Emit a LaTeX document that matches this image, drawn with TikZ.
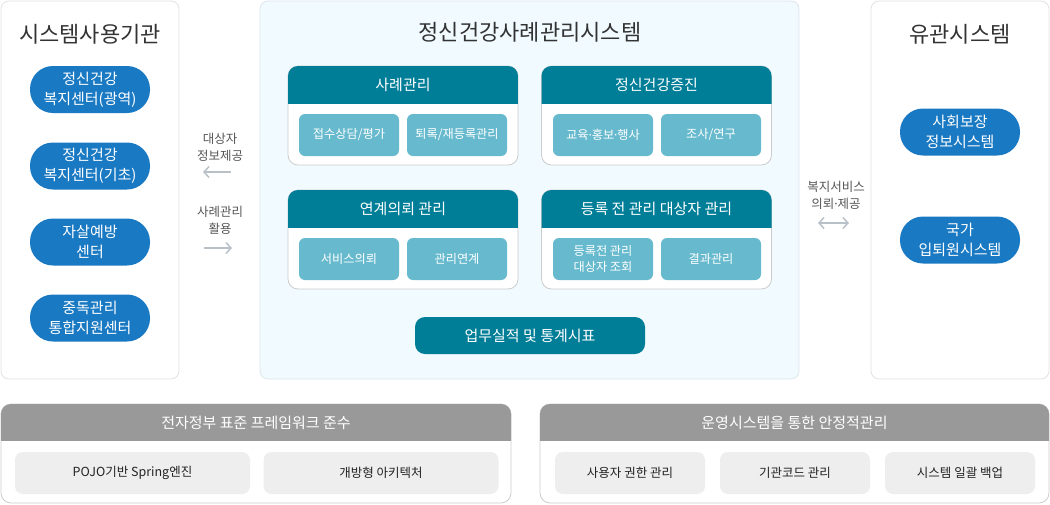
\documentclass[tikz,border=0pt]{standalone}
\usepackage{fontspec}
\setmainfont{Noto Sans CJK KR}
\newfontfamily\latinfont{Noto Sans}
\usetikzlibrary{arrows.meta}
\definecolor{ttl}{HTML}{333333}
\definecolor{pnlbd}{HTML}{E2E2E2}
\definecolor{ctrfill}{HTML}{F0FAFF}
\definecolor{ctrbd}{HTML}{DCE6EC}
\definecolor{pillblue}{HTML}{1A79C3}
\definecolor{tealhd}{HTML}{007E98}
\definecolor{tealin}{HTML}{67BACE}
\definecolor{subbd}{HTML}{CCCCCC}
\definecolor{arrgray}{HTML}{B9C1C8}
\definecolor{lblgray}{HTML}{555555}
\definecolor{grayhd}{HTML}{999999}
\definecolor{grayin}{HTML}{EEEEEE}
\definecolor{btxt}{HTML}{222222}
\newcommand\mdot{{\latinfont ·}}
\begin{document}
\begin{tikzpicture}[x=1pt,y=-1pt,
 panel/.style={draw=pnlbd,fill=white,line width=0.8pt,rounded corners=8pt,inner sep=0pt,outer sep=0pt},
 ttlnode/.style={text=ttl,inner sep=0pt,font=\fontsize{22}{26}\selectfont},
 pill/.style={fill=pillblue,rounded corners=23pt,minimum width=120pt,minimum height=47pt,inner sep=0pt,text=white,align=center,font=\fontsize{15}{20}\selectfont},
 subbox/.style={draw=subbd,fill=white,line width=0.8pt,rounded corners=10pt,minimum width=230pt,minimum height=99pt,inner sep=0pt,outer sep=0pt},
 hdtext/.style={text=white,inner sep=0pt,font=\fontsize{15}{18}\selectfont},
 inbox/.style={fill=tealin,rounded corners=6pt,minimum width=100pt,minimum height=42pt,inner sep=0pt,text=white,align=center,font=\fontsize{12.2}{16.5}\selectfont},
 btn/.style={fill=tealhd,rounded corners=10pt,minimum width=230pt,minimum height=37pt,inner sep=0pt,text=white,font=\fontsize{15}{18}\selectfont},
 lbl/.style={text=lblgray,align=center,inner sep=0pt,font=\fontsize{12.5}{17}\selectfont},
 arr/.style={draw=arrgray,line width=1.5pt},
 bpanel/.style={draw=subbd,fill=white,line width=0.8pt,rounded corners=10pt,inner sep=0pt,outer sep=0pt,minimum height=99pt},
 binbox/.style={fill=grayin,rounded corners=8pt,minimum height=42pt,inner sep=0pt,text=btxt,font=\fontsize{12.5}{16}\selectfont},
]
\useasboundingbox (0,0) rectangle (1050,504);

% ---------- main panels ----------
\node[panel,minimum width=178pt,minimum height=378pt] (lp) at (90,190) {};
\node[panel,fill=ctrfill,draw=ctrbd,minimum width=539pt,minimum height=378pt] (cp) at (529.5,190) {};
\node[panel,minimum width=178pt,minimum height=378pt] (rp) at (960,190) {};

\node[ttlnode] (lt) at (90,34.5) {시스템사용기관};
\node[ttlnode] (ct) at (530,32) {정신건강사례관리시스템};
\node[ttlnode] (rt) at (960,34.5) {유관시스템};

% ---------- left pills ----------
\node[pill] (l1) at (90,89.5) {정신건강\\복지센터(광역)};
\node[pill] (l2) at (90,166) {정신건강\\복지센터(기초)};
\node[pill] (l3) at (90,242) {자살예방\\센터};
\node[pill] (l4) at (90,318) {중독관리\\통합지원센터};

% ---------- right pills ----------
\node[pill] (r1) at (960,132) {사회보장\\정보시스템};
\node[pill] (r2) at (960,240) {국가\\입퇴원시스템};

% ---------- arrows ----------
\node[lbl] (lb1) at (220,147.5) {대상자\\정보제공};
\coordinate (a1s) at (231,172);
\coordinate (a1e) at (203,172);
\draw[arr,-{Straight Barb[length=5pt,width=11pt]}] (a1s) -- (a1e);

\node[lbl] (lb2) at (220,220.5) {사례관리\\활용};
\coordinate (a2s) at (204,248);
\coordinate (a2e) at (232,248);
\draw[arr,-{Straight Barb[length=5pt,width=11pt]}] (a2s) -- (a2e);

\node[lbl] (lb3) at (836,195) {복지서비스\\의뢰\mdot 제공};
\coordinate (a3s) at (818,223);
\coordinate (a3e) at (849,223);
\draw[arr,{Straight Barb[length=5pt,width=11pt]}-{Straight Barb[length=5pt,width=11pt]}] (a3s) -- (a3e);

% ---------- center sub boxes ----------
\node[subbox] (sa) at (403,115.5) {};
\node[subbox] (sb) at (656.5,115.5) {};
\node[subbox] (sc) at (403,239.5) {};
\node[subbox] (sd) at (656.5,239.5) {};
\begin{scope}
\clip[rounded corners=10pt] (288,66) rectangle (518,165);
\fill[tealhd] (287,65) rectangle (519,104);
\end{scope}
\begin{scope}
\clip[rounded corners=10pt] (541.5,66) rectangle (771.5,165);
\fill[tealhd] (540.5,65) rectangle (772.5,104);
\end{scope}
\begin{scope}
\clip[rounded corners=10pt] (288,190) rectangle (518,289);
\fill[tealhd] (287,189) rectangle (519,228);
\end{scope}
\begin{scope}
\clip[rounded corners=10pt] (541.5,190) rectangle (771.5,289);
\fill[tealhd] (540.5,189) rectangle (772.5,228);
\end{scope}

\node[hdtext] (ha) at (403,85) {사례관리};
\node[hdtext] (hb) at (656.5,85) {정신건강증진};
\node[hdtext] (hc) at (403,209) {연계의뢰 관리};
\node[hdtext] (hd) at (656.5,209) {등록 전 관리 대상자 관리};

\node[inbox] (a1) at (349,135) {접수상담/평가};
\node[inbox] (a2) at (457,135) {퇴록/재등록관리};
\node[inbox] (b1) at (603,135) {교육\mdot 홍보\mdot 행사};
\node[inbox] (b2) at (711,135) {조사/연구};
\node[inbox] (c1) at (349,259) {서비스의뢰};
\node[inbox] (c2) at (457,259) {관리연계};
\node[inbox] (d1) at (603,259) {등록전 관리\\대상자 조회};
\node[inbox] (d2) at (711,259) {결과관리};

\node[btn] (bt) at (530,335.5) {업무실적 및 통계시표};

% ---------- bottom panels ----------
\node[bpanel,minimum width=510pt] (bp1) at (256,453.5) {};
\node[bpanel,minimum width=509pt] (bp2) at (794.5,453.5) {};
\begin{scope}
\clip[rounded corners=10pt] (1,404) rectangle (511,503);
\fill[grayhd] (0,403) rectangle (512,441);
\end{scope}
\begin{scope}
\clip[rounded corners=10pt] (540,404) rectangle (1049,503);
\fill[grayhd] (539,403) rectangle (1050,441);
\end{scope}
\node[hdtext] (bh1) at (256,422.5) {전자정부 표준 프레임워크 준수};
\node[hdtext] (bh2) at (794.5,422.5) {운영시스템을 통한 안정적관리};

\node[binbox,minimum width=235pt] (p1) at (132.5,473) {POJO기반 Spring엔진};
\node[binbox,minimum width=235pt] (p2) at (381,473) {개방형 아키텍처};
\node[binbox,minimum width=150pt] (q1) at (630,473) {사용자 권한 관리};
\node[binbox,minimum width=150pt] (q2) at (795,473) {기관코드 관리};
\node[binbox,minimum width=150pt] (q3) at (960,473) {시스템 일괄 백업};
\end{tikzpicture}
\end{document}
